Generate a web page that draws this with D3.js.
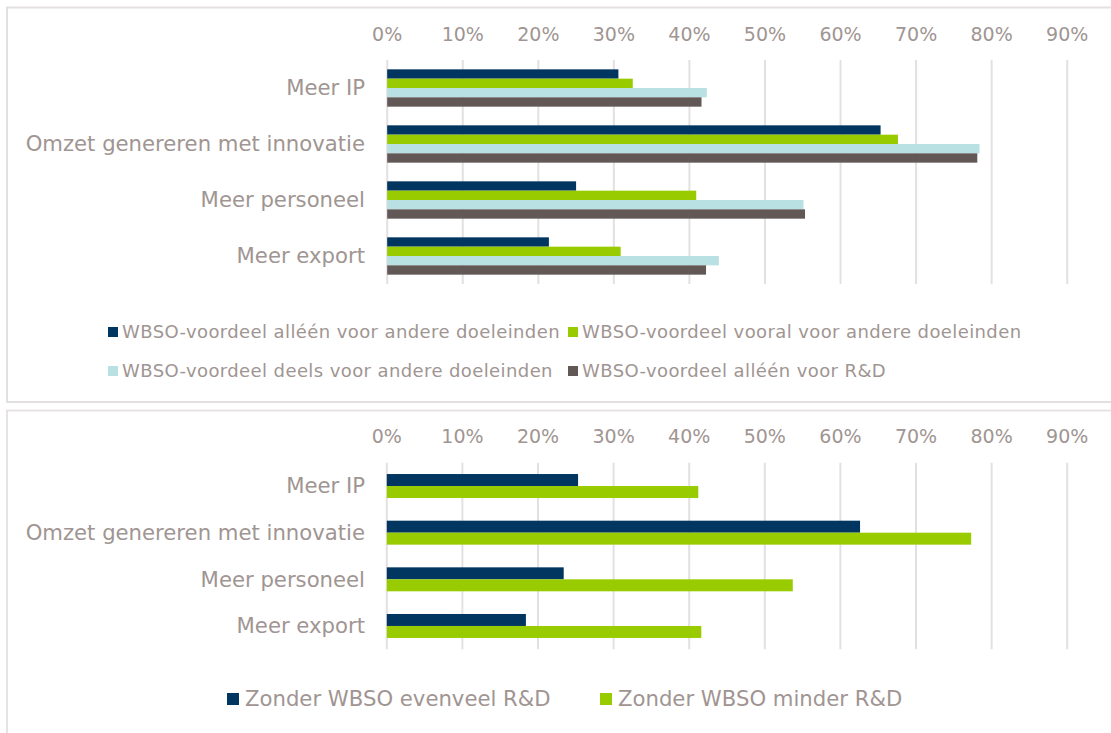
<!DOCTYPE html>
<html>
<head>
<meta charset="utf-8">
<script src="https://cdn.jsdelivr.net/npm/d3@7"></script>
<style>
  html, body { margin: 0; padding: 0; background: #ffffff; }
  svg { display: block; font-family: "DejaVu Sans", Verdana, sans-serif; }
</style>
</head>
<body>
<svg id="chart" width="1111" height="733"></svg>
<script>
// ---------- data ----------
const categories = ["Meer IP", "Omzet genereren met innovatie", "Meer personeel", "Meer export"];
const tickValues = [0, 0.1, 0.2, 0.3, 0.4, 0.5, 0.6, 0.7, 0.8, 0.9];

const topSeries = [
  "WBSO-voordeel alléén voor andere doeleinden",
  "WBSO-voordeel vooral voor andere doeleinden",
  "WBSO-voordeel deels voor andere doeleinden",
  "WBSO-voordeel alléén voor R&D"
];
const topAlleenAndere = [0.306, 0.653, 0.250, 0.214];
const topVooralAndere = [0.325, 0.676, 0.409, 0.309];
const topDeelsAndere  = [0.423, 0.784, 0.551, 0.439];
const topAlleenRD     = [0.416, 0.781, 0.553, 0.422];

const bottomSeries = ["Zonder WBSO evenveel R&D", "Zonder WBSO minder R&D"];
const bottomEvenveel = [0.253, 0.626, 0.234, 0.184];
const bottomMinder   = [0.412, 0.773, 0.537, 0.416];

const colors = ["#003660", "#99cc00", "#b9e0e3", "#625856"];
const textColor = "#a09592";
const gridColor = "#e5e0e0";

// ---------- drawing ----------
const svg = d3.select("#chart");

// panel frames
svg.append("rect").attr("x", 7).attr("y", 7.5).attr("width", 1130).attr("height", 394.5)
  .attr("fill", "none").attr("stroke", gridColor).attr("stroke-width", 2);
svg.append("rect").attr("x", 7).attr("y", 410.5).attr("width", 1130).attr("height", 340)
  .attr("fill", "none").attr("stroke", gridColor).attr("stroke-width", 1.8);

function drawPanel(cfg) {
  const g = svg.append("g");
  const x = d3.scaleLinear().domain([0, 0.9]).range([cfg.x0, cfg.x1]);
  const y = d3.scaleBand().domain(categories).range([cfg.y0, cfg.y1])
    .paddingInner(cfg.padInner).paddingOuter(cfg.padOuter);
  const ys = d3.scaleBand().domain(cfg.series).range([0, y.bandwidth()]);

  // grid + tick labels
  const axis = d3.axisTop(x).tickValues(tickValues).tickFormat(d3.format(".0%"))
    .tickSize(-(cfg.y1 - cfg.y0)).tickPadding(cfg.tickPad);
  const ag = g.append("g").attr("transform", `translate(0,${cfg.y0})`).call(axis);
  ag.select(".domain").remove();
  ag.selectAll(".tick line").attr("stroke", gridColor).attr("stroke-width", 2);
  ag.selectAll(".tick text").attr("fill", textColor).style("font-size", cfg.tickFont + "px")
    .style("font-family", '"DejaVu Sans", Verdana, sans-serif');

  // bars
  cfg.series.forEach((s, si) => {
    g.append("g").selectAll("rect").data(cfg.values[si]).join("rect")
      .attr("x", x(0) + 0.5)
      .attr("y", (d, i) => y(categories[i]) + ys(s))
      .attr("width", d => x(d) - x(0))
      .attr("height", ys.bandwidth())
      .attr("fill", colors[si]);
  });

  // category labels
  g.append("g").selectAll("text").data(categories).join("text")
    .attr("x", cfg.labelX)
    .attr("y", d => y(d) + y.bandwidth() / 2)
    .attr("dy", "0.35em")
    .attr("text-anchor", "end")
    .attr("fill", textColor)
    .style("font-size", cfg.catFont + "px")
    .text(d => d);

  // legend
  const lg = g.append("g");
  cfg.series.forEach((s, si) => {
    const p = cfg.legendPos[si];
    lg.append("rect").attr("x", p[0]).attr("y", p[1] - cfg.legendBox / 2)
      .attr("width", cfg.legendBox).attr("height", cfg.legendBox).attr("fill", colors[si]);
    lg.append("text").attr("x", p[0] + cfg.legendBox + cfg.legendGap).attr("y", p[1])
      .attr("dy", "0.35em").attr("fill", textColor)
      .style("font-size", cfg.legendFont + "px")
      .style("letter-spacing", cfg.legendSpacing + "px").text(s);
  });
}

drawPanel({
  series: topSeries,
  values: [topAlleenAndere, topVooralAndere, topDeelsAndere, topAlleenRD],
  x0: 386.7, x1: 1066.7,
  y0: 60, y1: 284, padInner: 1 / 3, padOuter: 1 / 6,
  tickPad: 19, tickFont: 19, catFont: 21.2, labelX: 365,
  legendPos: [[108, 332], [568, 332], [108, 371], [568, 371]],
  legendBox: 10, legendGap: 4, legendFont: 18, legendSpacing: 0.4
});

drawPanel({
  series: bottomSeries,
  values: [bottomEvenveel, bottomMinder],
  x0: 386.3, x1: 1066.7,
  y0: 462.7, y1: 649.3, padInner: 0.486, padOuter: 0.243,
  tickPad: 19.5, tickFont: 19, catFont: 21.2, labelX: 365,
  legendPos: [[227, 699], [600, 699]],
  legendBox: 12, legendGap: 6, legendFont: 21.2, legendSpacing: 0
});
</script>
</body>
</html>
